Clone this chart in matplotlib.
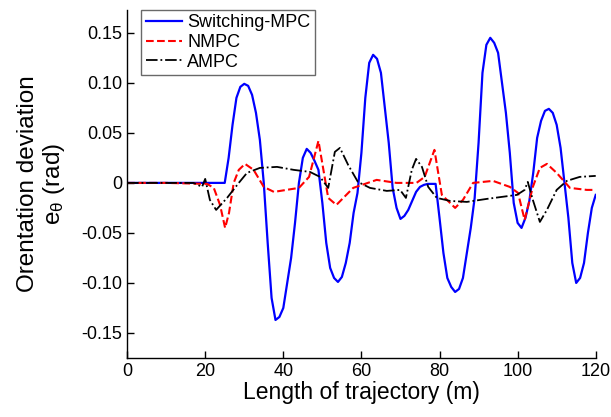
import matplotlib
matplotlib.use("Agg")
from matplotlib import pyplot as plt

plt.rcParams['font.family'] = ['Liberation Sans', 'DejaVu Sans']
plt.rcParams['mathtext.fontset'] = 'custom'
plt.rcParams['mathtext.rm'] = 'Liberation Sans'
plt.rcParams['mathtext.it'] = 'Liberation Sans'

# Switching-MPC
smpc_x = [0, 10, 20, 25, 26, 27, 28, 29, 30, 31, 32, 33, 34, 35, 36, 37, 38, 39, 40,
          41, 42, 43, 44, 45, 46, 47, 48, 49, 50, 51, 52, 53, 54, 55, 56, 57, 58, 59,
          60, 61, 62, 63, 64, 65, 66, 67, 68, 69, 70, 71, 72, 73, 74, 75, 76, 77, 79,
          80, 81, 82, 83, 84, 85, 86, 87, 88, 89, 90, 91, 92, 93, 94, 95, 96, 97, 98,
          99, 100, 101, 102, 103, 104, 105, 106, 107, 108, 109, 110, 111, 112, 113,
          114, 115, 116, 117, 118, 119, 120]
smpc_y = [0, 0, 0, 0, 0.025, 0.058, 0.085, 0.096, 0.099, 0.097, 0.088, 0.07, 0.043, 0.0,
          -0.06, -0.115, -0.137, -0.134, -0.125, -0.1, -0.075, -0.04, 0.0, 0.025, 0.034,
          0.03, 0.022, 0.013, -0.02, -0.06, -0.085, -0.095, -0.099, -0.094, -0.08,
          -0.06, -0.03, -0.01, 0.03, 0.085, 0.12, 0.128, 0.124, 0.11, 0.075, 0.04,
          -0.005, -0.025, -0.036, -0.033, -0.027, -0.018, -0.009, -0.004, -0.002,
          -0.001, -0.001, -0.035, -0.07, -0.095, -0.104, -0.109, -0.106, -0.095,
          -0.07, -0.045, -0.015, 0.04, 0.11, 0.138, 0.145, 0.14, 0.13, 0.1, 0.07,
          0.03, -0.02, -0.04, -0.045, -0.035, -0.018, 0.01, 0.045, 0.062, 0.072,
          0.074, 0.07, 0.058, 0.035, 0.0, -0.035, -0.08, -0.1, -0.095, -0.08, -0.05,
          -0.025, -0.012]

# NMPC
nmpc_x = [0, 10, 20.5, 22.2, 23.8, 25.1, 26.1, 27.3, 28.6, 30.2, 32.4, 35, 37.6, 39.2,
          44, 46.6, 49, 51.5, 53.6, 57.9, 63.9, 69, 74.1, 76.2, 78.7, 80.6, 84, 86,
          88.6, 93.7, 98, 100.1, 101.8, 103.9, 105.7, 107.5, 110, 113.4, 117.7, 120]
nmpc_y = [0, 0, -0.001, -0.005, -0.022, -0.045, -0.03, 0.0, 0.013, 0.019, 0.013,
          -0.004, -0.009, -0.008, -0.005, 0.006, 0.042, -0.015, -0.022, -0.005, 0.003,
          0.0, 0.0, 0.006, 0.033, -0.012, -0.025, -0.017, 0.0, 0.002, -0.004, -0.01,
          -0.037, -0.004, 0.015, 0.019, 0.01, -0.005, -0.007, -0.007]

# AMPC
ampc_x = [0, 10, 17, 19.2, 20, 21.2, 22.8, 25.6, 28.6, 30.7, 34, 38.4, 42.7, 46.8, 49.4,
          51.5, 53.2, 54.5, 56.6, 59.1, 62.2, 66.5, 69.9, 71.4, 72.9, 74, 75.5, 77.1,
          79.3, 82.7, 87, 92.1, 99.8, 101.8, 102.6, 103.9, 105.7, 107.5, 110, 112.6,
          115.9, 120]
ampc_y = [0, 0, 0, -0.004, 0.004, -0.017, -0.027, -0.015, 0.0, 0.01, 0.015, 0.016,
          0.013, 0.011, 0.006, -0.005, 0.031, 0.035, 0.018, 0.001, -0.005, -0.008,
          -0.007, -0.015, 0.013, 0.024, 0.016, -0.004, -0.015, -0.018, -0.019, -0.016,
          -0.012, -0.007, 0.001, -0.017, -0.039, -0.027, -0.007, 0.002, 0.006, 0.007]

yticks = [0.15, 0.10, 0.05, 0, -0.05, -0.10, -0.15]
ytick_labels = ["0.15", "0.10", "0.05", "0", "-0.05", "-0.10", "-0.15"]
xticks = [0, 20, 40, 60, 80, 100, 120]

fig = plt.figure(figsize=(6.11, 4.17), dpi=100)
ax = fig.add_axes([0.208, 0.1415, 0.767, 0.835])

ax.plot(smpc_x, smpc_y, color='#0000ff', lw=1.6, label='Switching-MPC')
ax.plot(nmpc_x, nmpc_y, color='#ff0000', lw=1.5, ls='--', label='NMPC')
ax.plot(ampc_x, ampc_y, color='black', lw=1.3, ls='-.', label='AMPC')

ax.set_xlim(0, 120)
ax.set_ylim(-0.175, 0.173)
ax.set_xticks(xticks)
ax.set_yticks(yticks, labels=ytick_labels)
ax.tick_params(direction='in', length=5, width=1, labelsize=13)
ax.spines['top'].set_visible(False)
ax.spines['right'].set_visible(False)
ax.spines['left'].set_linewidth(1.0)
ax.spines['bottom'].set_linewidth(1.0)

ax.set_xlabel("Length of trajectory (m)", fontsize=16.5, labelpad=1)
ax.set_ylabel("Orentation deviation\n$\\mathregular{e_\\theta}$ (rad)", fontsize=17.5,
              labelpad=10, linespacing=1.1)

leg = ax.legend(loc='upper left', bbox_to_anchor=(0.03, 1.0), fontsize=13,
                frameon=True, fancybox=False, edgecolor='#444444',
                borderpad=0.25, labelspacing=0.15, handlelength=2.0, handletextpad=0.3,
                borderaxespad=0.0)
leg.get_frame().set_linewidth(1.0)

fig.savefig("out.png", dpi=100)
